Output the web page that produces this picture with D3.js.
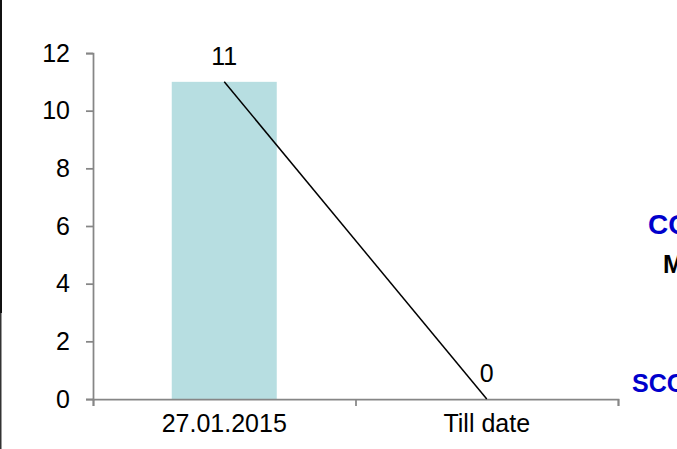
<!DOCTYPE html>
<html>
<head>
<meta charset="utf-8">
<script src="https://cdn.jsdelivr.net/npm/d3@7"></script>
<style>
  html, body { margin: 0; padding: 0; background: #fff; }
  svg { display: block; font-family: Arial, "Liberation Sans", sans-serif; }
</style>
</head>
<body>
<div id="chart"></div>
<script>
// data
var categories = ['27.01.2015', 'Till date'];
var barValues = [11, null];
var lineValues = [11, 0];
var yTicks = [0, 2, 4, 6, 8, 10, 12];
var sideTexts = ['CO', 'M', 'SCO'];   // cut off at the slide edge in the original

var width = 677, height = 449;

var svg = d3.select('#chart').append('svg')
    .attr('width', width)
    .attr('height', height);

// left border of the slide
svg.append('rect')
    .attr('x', 0).attr('y', 0)
    .attr('width', 2).attr('height', 313)
    .attr('fill', '#111');
svg.append('rect')
    .attr('x', 0).attr('y', 313)
    .attr('width', 1.5).attr('height', height - 313)
    .attr('fill', '#333');

// scales
var x = d3.scaleBand()
    .domain(categories)
    .range([93, 618])
    .paddingInner(0).paddingOuter(0);
var xEdge = d3.scaleLinear()
    .domain([0, categories.length])
    .range(x.range());
var y = d3.scaleLinear()
    .domain([0, 12])
    .range([399, 53]);

var axisColor = '#868686';
var fontSize = '25px';

// bars
var barW = x.bandwidth() * 0.4;
svg.append('g')
    .selectAll('rect')
    .data(categories.map((c, i) => ({c: c, v: barValues[i]})).filter(d => d.v != null))
    .enter().append('rect')
    .attr('x', d => x(d.c) + x.bandwidth() / 2 - barW / 2)
    .attr('y', d => y(d.v))
    .attr('width', barW)
    .attr('height', d => y(0) - y(d.v))
    .attr('fill', '#B7DEE1');

// y axis
var yAxis = svg.append('g')
    .attr('transform', 'translate(93,0)')
    .call(d3.axisLeft(y).tickValues(yTicks).tickSize(7).tickPadding(16));
yAxis.select('.domain').attr('stroke', axisColor).attr('stroke-width', 1.75);
yAxis.selectAll('.tick line').attr('stroke', axisColor).attr('stroke-width', 1.75);
yAxis.selectAll('.tick text')
    .attr('fill', '#000')
    .style('font-size', fontSize);

// x axis (ticks between categories)
var xAxis = svg.append('g')
    .attr('transform', 'translate(0,' + y(0) + ')')
    .call(d3.axisBottom(xEdge).tickValues(d3.range(categories.length + 1)).tickSize(7).tickFormat(''));
xAxis.select('.domain').attr('stroke', axisColor).attr('stroke-width', 1.75);
xAxis.selectAll('.tick line').attr('stroke', axisColor).attr('stroke-width', 1.75);

svg.append('g')
    .selectAll('text')
    .data(categories)
    .enter().append('text')
    .attr('x', d => x(d) + x.bandwidth() / 2)
    .attr('y', 432)
    .attr('text-anchor', 'middle')
    .style('font-size', fontSize)
    .attr('fill', '#000')
    .text(d => d);

// line
var pts = categories.map((c, i) => ({c: c, v: lineValues[i]}));
var cx = d => x(d.c) + x.bandwidth() / 2;
svg.append('path')
    .datum(pts)
    .attr('fill', 'none')
    .attr('stroke', '#000')
    .attr('stroke-width', 1.5)
    .attr('d', d3.line().x(cx).y(d => y(d.v)));

svg.append('g')
    .selectAll('text')
    .data(pts)
    .enter().append('text')
    .attr('x', cx)
    .attr('y', d => y(d.v) - 17)
    .attr('text-anchor', 'middle')
    .style('font-size', fontSize)
    .attr('fill', '#000')
    .text(d => d.v);

// side texts
var sideStyle = [
    {x: 648, y: 234, size: 28, color: '#0000CC'},
    {x: 663, y: 273, size: 25, color: '#000'},
    {x: 632, y: 392, size: 25, color: '#0000CC'}
];
svg.append('g')
    .selectAll('text')
    .data(sideTexts)
    .enter().append('text')
    .attr('x', (d, i) => sideStyle[i].x)
    .attr('y', (d, i) => sideStyle[i].y)
    .style('font-size', (d, i) => sideStyle[i].size + 'px')
    .style('font-weight', 'bold')
    .attr('fill', (d, i) => sideStyle[i].color)
    .text(d => d);
</script>
</body>
</html>
